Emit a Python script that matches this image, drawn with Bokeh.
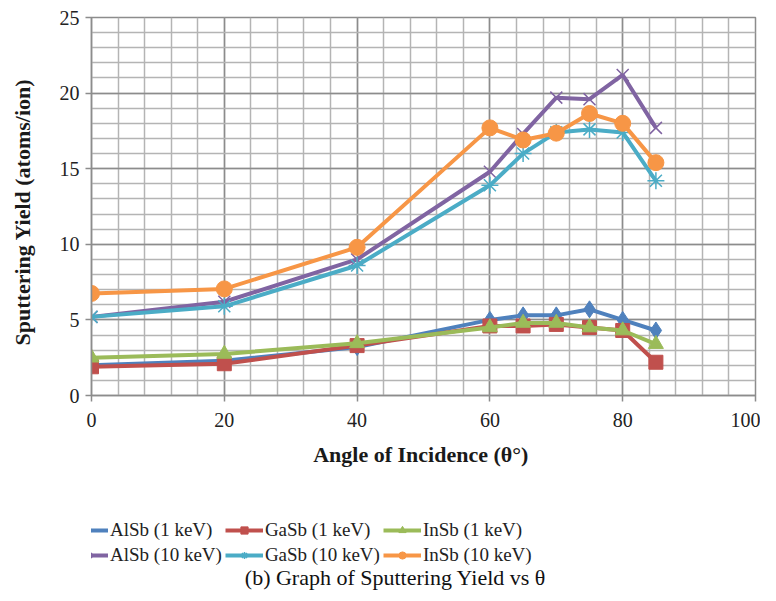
from bokeh.plotting import figure
from bokeh.models import Legend, LegendItem, Label, FixedTicker, Range1d
from bokeh.layouts import column
from bokeh.embed import file_html
from bokeh.resources import INLINE

angles = [0, 20, 40, 60, 65, 70, 75, 80, 85]
alsb_1 = [2.0, 2.3, 3.2, 5.0, 5.3, 5.3, 5.7, 5.0, 4.3]
gasb_1 = [1.9, 2.1, 3.3, 4.6, 4.6, 4.7, 4.5, 4.3, 2.2]
insb_1 = [2.5, 2.75, 3.45, 4.5, 4.8, 4.8, 4.5, 4.3, 3.4]
alsb_10 = [5.2, 6.2, 9.0, 14.8, 17.3, 19.7, 19.6, 21.2, 17.7]
gasb_10 = [5.2, 5.9, 8.6, 13.9, 16.0, 17.4, 17.6, 17.4, 14.2]
insb_10 = [6.75, 7.05, 9.8, 17.7, 16.9, 17.35, 18.65, 18.0, 15.4]

x_ticks = [0, 20, 40, 60, 80, 100]
y_ticks = [0, 5, 10, 15, 20, 25]

SERIF = "Liberation Serif"

p = figure(width=760, height=480, output_backend="svg", toolbar_location=None,
           x_range=Range1d(0, 100), y_range=Range1d(0, 25))
p.min_border_left = 91
p.min_border_right = 5
p.min_border_top = 17
p.min_border_bottom = 85
p.outline_line_color = "#8c8c8c"
p.outline_line_width = 1.5

p.xaxis.ticker = FixedTicker(ticks=x_ticks, minor_ticks=list(range(0, 101, 4)))
p.yaxis.ticker = FixedTicker(ticks=y_ticks, minor_ticks=list(range(0, 26, 1)))
for g in (p.xgrid[0], p.ygrid[0]):
    g.grid_line_color = "#8c8c8c"
    g.grid_line_width = 1.5
    g.minor_grid_line_color = "#b4b4b4"
    g.minor_grid_line_width = 1.5

for ax in (p.xaxis[0], p.yaxis[0]):
    ax.axis_line_color = "#8c8c8c"
    ax.axis_line_width = 1.5
    ax.major_tick_line_color = "#8c8c8c"
    ax.major_tick_line_width = 1.5
    ax.major_tick_out = 6
    ax.major_tick_in = 0
    ax.minor_tick_line_color = None
    ax.major_label_text_font = SERIF
    ax.major_label_text_font_size = "20px"
    ax.major_label_text_color = "#222222"
    ax.axis_label_text_font = SERIF
    ax.axis_label_text_font_size = "22px"
    ax.axis_label_text_font_style = "bold"
    ax.axis_label_text_color = "#1a1a1a"

p.xaxis.axis_label = "Angle of Incidence  (θ°)"
p.xaxis.major_label_standoff = 11
p.xaxis.axis_label_standoff = 12
p.yaxis.axis_label = "Sputtering  Yield  (atoms/ion)"
p.yaxis.major_label_standoff = 6
p.yaxis.axis_label_standoff = 22

series = [
    ("AlSb (1 keV)", alsb_1, "#4F81BD", "diamond"),
    ("GaSb (1 keV)", gasb_1, "#C0504D", "square"),
    ("InSb (1 keV)", insb_1, "#9BBB59", "triangle"),
    ("AlSb (10 keV)", alsb_10, "#8064A2", "x"),
    ("GaSb (10 keV)", gasb_10, "#4BACC6", "asterisk"),
    ("InSb (10 keV)", insb_10, "#F79646", "circle"),
]
sizes = {"diamond": 17, "square": 14, "triangle": 15, "x": 17, "asterisk": 17, "circle": 16}

q = figure(width=760, height=110, output_backend="svg", toolbar_location=None,
           x_range=Range1d(1000, 1001), y_range=Range1d(1000, 1001),
           x_axis_location=None, y_axis_location=None)
q.min_border_left = q.min_border_right = q.min_border_top = q.min_border_bottom = 0
q.grid.visible = False
q.outline_line_color = None

items = []
for name, ys, color, marker in series:
    kw = dict(fill_color=color, line_color=color,
              line_width=1.5 if marker in ("x", "asterisk") else 1)
    p.line(angles, ys, line_color=color, line_width=4)
    p.scatter(angles, ys, marker=marker, size=sizes[marker], **kw)
    ln = q.line(angles, ys, line_color=color, line_width=4)
    sc = q.scatter(angles, ys, marker=marker, size=12, **kw)
    items.append(LegendItem(label=name, renderers=[ln, sc]))

legend = Legend(items=items, location=(-21, 24), orientation="horizontal", ncols=3,
                label_text_font=SERIF, label_text_font_size="19px",
                label_text_color="#222222", glyph_width=38, glyph_height=18,
                label_standoff=2, spacing=3, padding=0, margin=0,
                border_line_color=None, background_fill_alpha=0)
q.add_layout(legend, "center")

cap = Label(x=304, y=13, x_units="screen", y_units="screen",
            text="(b) Graph of Sputtering Yield vs θ", text_font=SERIF,
            text_font_size="22px", text_color="#111111", text_align="center",
            text_baseline="middle")
q.add_layout(cap)

layout = column(p, q, spacing=0)
open("out.html", "w").write(file_html(layout, INLINE))
